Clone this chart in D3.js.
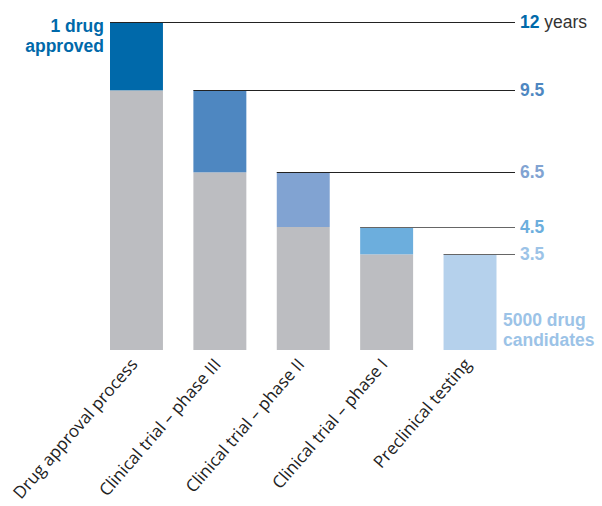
<!DOCTYPE html>
<html>
<head>
<meta charset="utf-8">
<script src="https://cdn.jsdelivr.net/npm/d3@7"></script>
<style>
  body { margin: 0; background: #fff; }
  svg { display: block; }
</style>
</head>
<body>
<div id="chart"></div>
<script>
// stages, from the last one (left) to the first one (right)
const stages = [
    "Drug approval process",
    "Clinical trial \u2013 phase III",
    "Clinical trial \u2013 phase II",
    "Clinical trial \u2013 phase I",
    "Preclinical testing"
];
// cumulative years at the start and end of each stage
const startYears = [9.5, 6.5, 4.5, 3.5, 0];
const endYears = [12, 9.5, 6.5, 4.5, 3.5];
const endLabels = ["12", "9.5", "6.5", "4.5", "3.5"];
const stageColors = ["#0069aa", "#4e87c1", "#81a3d2", "#6caedd", "#b5d1ec"];
const labelColors = ["#0069aa", "#4e87c1", "#81a3d2", "#6caedd", "#9cc3e7"];

const width = 602, height = 506;
const svg = d3.select("#chart").append("svg")
    .attr("width", width)
    .attr("height", height);

const x = d3.scaleBand()
    .domain(stages)
    .range([110, 496.5])
    .paddingInner(0.365)
    .paddingOuter(0);

const y = d3.scaleLinear()
    .domain([0, 12])
    .range([350, 22]);

const lineEnd = 515;

// gray part: the years before this stage
svg.append("g").selectAll("rect")
    .data(stages)
    .join("rect")
    .attr("x", d => x(d))
    .attr("width", x.bandwidth())
    .attr("y", (d, i) => y(startYears[i]))
    .attr("height", (d, i) => y(0) - y(startYears[i]))
    .attr("fill", "#bcbdc1");

// coloured part: the stage itself
svg.append("g").selectAll("rect")
    .data(stages)
    .join("rect")
    .attr("x", d => x(d))
    .attr("width", x.bandwidth())
    .attr("y", (d, i) => y(endYears[i]))
    .attr("height", (d, i) => y(startYears[i]) - y(endYears[i]))
    .attr("fill", (d, i) => stageColors[i]);

// leader lines to the year labels
svg.append("g").selectAll("line")
    .data(stages)
    .join("line")
    .attr("x1", d => x(d))
    .attr("x2", lineEnd)
    .attr("y1", (d, i) => Math.round(y(endYears[i])) + 0.5)
    .attr("y2", (d, i) => Math.round(y(endYears[i])) + 0.5)
    .attr("stroke", (d, i) => i < 3 ? "#222" : "#666")
    .attr("stroke-width", 1.1);

// year labels
const yl = svg.append("g")
    .attr("font-family", "Arial, 'Liberation Sans', sans-serif")
    .attr("font-size", 17.5);

yl.selectAll("text")
    .data(stages)
    .join("text")
    .attr("x", 520)
    .attr("y", (d, i) => y(endYears[i]))
    .attr("dy", "0.35em")
    .attr("fill", (d, i) => labelColors[i])
    .attr("font-weight", "bold")
    .text((d, i) => endLabels[i])
    .filter((d, i) => i === 0)
    .append("tspan")
    .attr("font-weight", "normal")
    .attr("fill", "#333")
    .text(" years");

// annotations
const note = svg.append("g")
    .attr("font-family", "Arial, 'Liberation Sans', sans-serif")
    .attr("font-size", 17.5)
    .attr("font-weight", "bold");

note.append("text")
    .attr("y", 32)
    .attr("text-anchor", "end")
    .attr("fill", labelColors[0])
    .selectAll("tspan")
    .data(["1 drug", "approved"])
    .join("tspan")
    .attr("x", 104)
    .attr("dy", (d, i) => i ? 20 : 0)
    .text(d => d);

note.append("text")
    .attr("y", 326)
    .attr("fill", labelColors[4])
    .selectAll("tspan")
    .data(["5000 drug", "candidates"])
    .join("tspan")
    .attr("x", 503)
    .attr("dy", (d, i) => i ? 20 : 0)
    .text(d => d);

// category labels, rotated
svg.append("g")
    .attr("font-family", "'Open Sans', sans-serif")
    .attr("font-size", 17)
    .attr("fill", "#222")
    .selectAll("text")
    .data(stages)
    .join("text")
    .attr("text-anchor", "end")
    .attr("transform", d => `translate(${x(d) + x.bandwidth() / 2 + 2},${365}) rotate(-49)`)
    .text(d => d);
</script>
</body>
</html>
